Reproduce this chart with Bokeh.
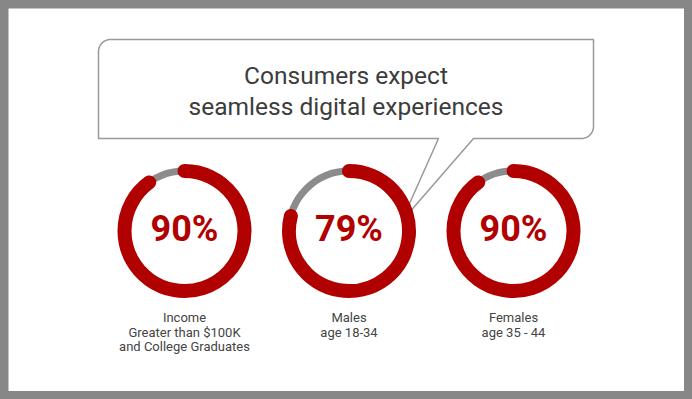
import numpy as np
from bokeh.plotting import figure
from bokeh.models import ColumnDataSource, Range1d
from bokeh.core.properties import value
from bokeh.embed import file_html
from bokeh.resources import INLINE

# ---------------- data ----------------
segment_labels = [
    ["Income", "Greater than $100K", "and College Graduates"],
    ["Males", "age 18-34"],
    ["Females", "age 35 - 44"],
]
percentages = [90, 79, 90]
pct_labels = ["90%", "79%", "90%"]
title_lines = ["Consumers expect", "seamless digital experiences"]

# ---------------- layout ----------------
W, H = 676, 383
OX, OY = 8, 8  # page offset of the figure
K = 0.35       # baseline correction (fraction of font size)


def fx(x):
    return x - OX


def fy(y):
    return H - (y - OY)


RED = "#b10000"
GRAY = "#8c8c8c"
TEXT = "#444444"
FONT = value("Roboto")

p = figure(width=W, height=H, output_backend="svg", toolbar_location=None,
           x_range=Range1d(0, W), y_range=Range1d(0, H),
           x_axis_location=None, y_axis_location=None, min_border=0)
p.grid.visible = False
p.outline_line_color = None
p.background_fill_color = "white"
p.border_fill_color = "white"

# ---------------- speech-bubble callout ----------------
bx0, bx1, by0, by1 = 98, 593, 39, 138
rc = 12
tail_l, tail_r = 438, 473
tip = (401, 221)
xs, ys = [], []
t = np.linspace(0, np.pi / 2, 12)
# top-left rounded corner
cx, cy = bx0 + rc, by0 + rc
xs += list(cx - rc * np.cos(t)); ys += list(cy - rc * np.sin(t))
# top-right square
xs.append(bx1); ys.append(by0)
# bottom-right rounded corner
cx, cy = bx1 - rc, by1 - rc
xs += list(cx + rc * np.cos(t)); ys += list(cy + rc * np.sin(t))
# tail
xs += [tail_r, tip[0], tail_l, bx0]
ys += [by1, tip[1], by1, by1]
p.patch([fx(x) for x in xs], [fy(y) for y in ys], fill_color="white",
        line_color="#999999", line_width=1.5)

TS = 24.5
title_x = [345.5, 345.5]
title_y = [84 - K * TS, 115 - K * TS]
p.text(x=[fx(v) for v in title_x], y=[fy(v) for v in title_y], text=title_lines,
       text_font=FONT, text_font_size=f"{TS}px", text_color="#3c3c3c",
       text_align="center", text_baseline="alphabetic")

# ---------------- donuts ----------------
centers_x = [184 + i * 164.5 for i in range(len(percentages))]
center_y = 230.5
src = ColumnDataSource(dict(
    x=[fx(c) for c in centers_x],
    y=[fy(center_y)] * len(percentages),
    start=[np.pi / 2] * len(percentages),
    end=[np.pi / 2 - v / 100 * 2 * np.pi for v in percentages],
    label=pct_labels,
))
p.circle(x="x", y="y", radius=60, source=src, fill_color=None,
         line_color=GRAY, line_width=7)
p.arc(x="x", y="y", radius=60, start_angle="start", end_angle="end",
      direction="clock", source=src, line_color=RED, line_width=14,
      line_cap="round")
PS = 36
p.text(x="x", y=fy(241 - K * PS), text="label", source=src, text_font=FONT,
       text_font_size=f"{PS}px", text_font_style="bold", text_color=RED,
       text_align="center", text_baseline="alphabetic")

# ---------------- segment labels ----------------
LS = 13
lx, ly, lt = [], [], []
for i, lines in enumerate(segment_labels):
    for j, line in enumerate(lines):
        lx.append(fx(centers_x[i]))
        ly.append(fy(322 + 14.5 * j - K * LS))
        lt.append(line)
p.text(x=lx, y=ly, text=lt, text_font=FONT, text_font_size=f"{LS}px",
       text_color=TEXT, text_align="center", text_baseline="alphabetic")

template = """{% block postamble %}<style>html, body { background: #878787 !important; } body { margin: 8px !important; padding: 0 !important; }</style>{% endblock %}"""
html = file_html(p, INLINE, "chart", template=template)
open("out.html", "w").write(html)
